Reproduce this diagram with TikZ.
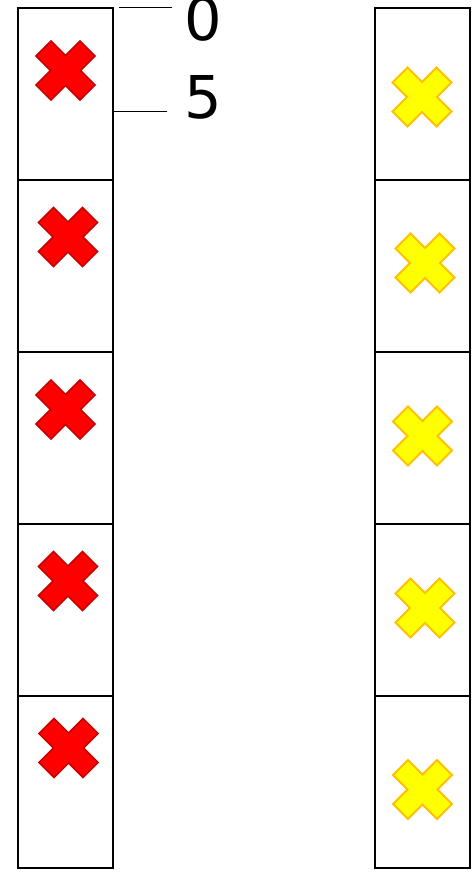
\documentclass[tikz,border=0pt]{standalone}
\usepackage{fontspec}
\setmainfont{DejaVu Sans}
\definecolor{redfill}{HTML}{FF0000}
\definecolor{redline}{HTML}{C80000}
\definecolor{yelfill}{HTML}{FFFF00}
\definecolor{yelline}{HTML}{FFC000}
\tikzset{
  cell/.style={draw=black, line width=2pt, minimum width=95pt, minimum height=172pt, inner sep=0pt, outer sep=0pt, anchor=north west},
  redx/.style={fill=redfill, draw=redline, line width=1.5pt, line join=miter},
  yelx/.style={fill=yelfill, draw=yelline, line width=1.8pt, line join=miter},
  thinline/.style={draw=black, line width=1pt},
  digit/.style={font=\fontsize{59}{59}\selectfont, inner sep=0pt}
}
\newcommand{\xmark}[3]{%
  \path[#1] (#2,#3) ++(0,-15) -- ++(14.5,-14.5) -- ++(15,15) -- ++(-14.5,14.5) -- ++(14.5,14.5) -- ++(-15,15) -- ++(-14.5,-14.5) -- ++(-14.5,14.5) -- ++(-15,-15) -- ++(14.5,-14.5) -- ++(-14.5,-14.5) -- ++(15,-15) -- cycle;}
\begin{document}
\begin{tikzpicture}[x=1pt,y=-1pt]
\useasboundingbox (0,0) rectangle (474,872);
% left column
\node[cell] (l1) at (18,8) {};
\node[cell] (l2) at (18,180) {};
\node[cell] (l3) at (18,352) {};
\node[cell] (l4) at (18,524) {};
\node[cell] (l5) at (18,696) {};
% right column
\node[cell] (r1) at (375,8) {};
\node[cell] (r2) at (375,180) {};
\node[cell] (r3) at (375,352) {};
\node[cell] (r4) at (375,524) {};
\node[cell] (r5) at (375,696) {};
% crosses
\xmark{redx}{65.5}{70.5}
\xmark{redx}{68}{237}
\xmark{redx}{65.5}{409.5}
\xmark{redx}{68}{581}
\xmark{redx}{68.5}{748}
\xmark{yelx}{422}{97}
\xmark{yelx}{425}{263}
\xmark{yelx}{422.5}{436}
\xmark{yelx}{425}{608}
\xmark{yelx}{422.5}{789.5}
% labels
\node[digit] (n0) at (203,19.5) {0};
\node[digit] (n5) at (203.5,97.5) {5};
\coordinate (a0) at (119,8);
\coordinate (b0) at (172,8);
\coordinate (a5) at (113,112);
\coordinate (b5) at (167,112);
\draw[thinline] (a0) -- (b0);
\draw[thinline] (a5) -- (b5);
\end{tikzpicture}
\end{document}
